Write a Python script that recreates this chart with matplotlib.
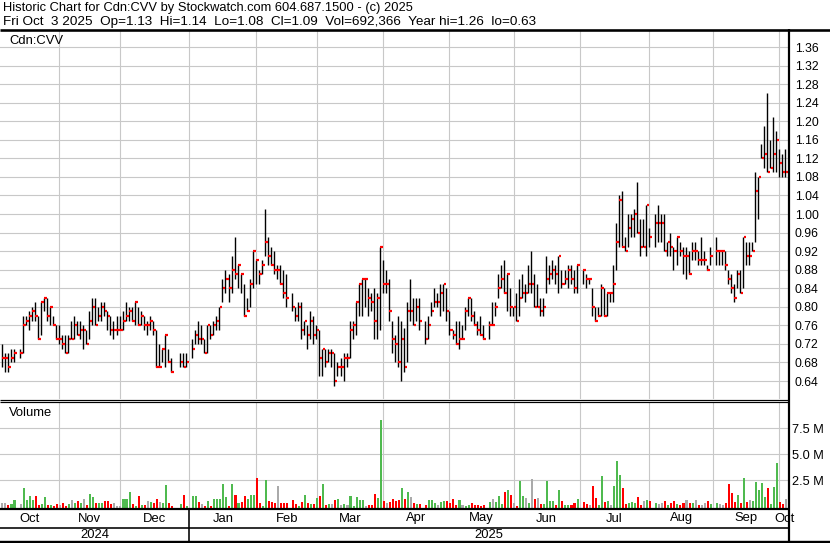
import numpy as np
import pandas as pd
import matplotlib
matplotlib.use("Agg")
import matplotlib.pyplot as plt
from matplotlib.lines import Line2D

plt.rcParams['font.family'] = ['Liberation Sans', 'DejaVu Sans']

# ---------------- data (one slot per weekday, None = market holiday) ----------------
first_day = '2024-10-07'
last_day = '2025-10-03'

high = [
    0.72, 0.70, 0.70, 0.71, 0.71, None, 0.71, 0.78, 0.78, 0.79,
    0.80, 0.81, 0.78, 0.81, 0.82, 0.82, 0.80, 0.78, 0.76, 0.76,
    0.74, 0.74, 0.74, 0.77, 0.78, 0.77, 0.77, 0.76, 0.75, 0.79,
    0.82, 0.82, 0.80, 0.81, 0.81, 0.79, 0.78, 0.77, 0.78, 0.78,
    0.79, 0.81, 0.80, 0.80, 0.81, 0.80, 0.79, 0.78, 0.77, 0.78,
    0.77, 0.75, 0.72, 0.71, 0.74, 0.71, 0.69, None, None, 0.70,
    0.70, 0.70, None, 0.73, 0.75, 0.77, 0.76, 0.73, 0.76, 0.76,
    0.77, 0.78, 0.80, 0.86, 0.88, 0.87, 0.91, 0.95, 0.89, 0.87,
    0.85, 0.82, 0.86, 0.92, 0.90, 0.88, 0.90, 1.01, 0.95, 0.93,
    0.92, 0.89, 0.89, 0.88, 0.87, None, 0.83, 0.80, 0.81, 0.81,
    0.77, 0.76, 0.79, 0.78, 0.76, 0.75, 0.71, 0.71, 0.71, 0.71,
    0.70, 0.68, 0.69, 0.70, 0.70, 0.77, 0.77, 0.81, 0.85, 0.86,
    0.86, 0.84, 0.83, 0.84, 0.83, 0.93, 0.90, 0.88, 0.86, 0.77,
    0.74, 0.78, 0.77, 0.755, 0.81, 0.86, 0.82, 0.82, 0.82, None,
    0.77, 0.78, 0.81, 0.84, 0.83, 0.85, 0.85, 0.84, 0.79, 0.75,
    0.77, 0.77, 0.76, 0.80, 0.82, 0.82, 0.79, 0.77, 0.78, 0.76,
    None, 0.77, 0.81, 0.81, 0.87, 0.89, 0.90, 0.87, 0.84, 0.80,
    0.83, 0.86, 0.87, 0.85, 0.89, 0.92, 0.87, 0.85, 0.82, 0.82,
    0.91, 0.89, 0.90, 0.89, 0.91, 0.88, 0.88, 0.89, 0.89, 0.88,
    0.89, None, 0.88, 0.87, 0.86, 0.84, 0.80, 0.80, 0.85, 0.84,
    0.83, 0.83, 0.89, 0.98, 1.04, 1.05, 0.95, 1.00, 1.00, 1.01,
    1.07, 0.99, 0.99, 1.02, 0.97, None, 1.00, 1.02, 1.00, 1.00,
    0.94, 0.96, 0.93, 0.95, 0.94, 0.93, 0.93, 0.92, 0.94, 0.94,
    0.92, 0.95, 0.92, 0.89, 0.93, None, 0.95, 0.92, 0.92, 0.92,
    0.88, 0.87, 0.85, 0.88, 0.88, 0.95, 0.94, 0.94, 0.94, 1.09,
    1.08, 1.15, 1.19, 1.26, 1.16, 1.21, 1.18, 1.14, 1.13, 1.14,
]

low = [
    0.67, 0.66, 0.66, 0.68, 0.68, None, 0.69, 0.70, 0.76, 0.75,
    0.77, 0.77, 0.73, 0.74, 0.79, 0.77, 0.76, 0.76, 0.73, 0.72,
    0.71, 0.70, 0.70, 0.73, 0.73, 0.74, 0.73, 0.71, 0.72, 0.73,
    0.76, 0.76, 0.77, 0.77, 0.78, 0.75, 0.74, 0.73, 0.74, 0.75,
    0.75, 0.77, 0.77, 0.77, 0.76, 0.76, 0.76, 0.75, 0.74, 0.75,
    0.74, 0.67, 0.67, 0.68, 0.67, 0.68, 0.66, None, None, 0.67,
    0.67, 0.67, None, 0.69, 0.72, 0.72, 0.72, 0.70, 0.70, 0.73,
    0.74, 0.75, 0.75, 0.81, 0.83, 0.81, 0.83, 0.86, 0.84, 0.83,
    0.78, 0.79, 0.80, 0.84, 0.85, 0.85, 0.87, 0.91, 0.89, 0.89,
    0.87, 0.86, 0.85, 0.82, 0.80, None, 0.79, 0.77, 0.77, 0.73,
    0.74, 0.71, 0.73, 0.72, 0.73, 0.65, 0.65, 0.67, 0.68, 0.67,
    0.63, 0.65, 0.65, 0.64, 0.67, 0.69, 0.73, 0.74, 0.78, 0.78,
    0.80, 0.78, 0.79, 0.73, 0.73, 0.75, 0.83, 0.83, 0.77, 0.70,
    0.68, 0.67, 0.64, 0.66, 0.68, 0.77, 0.76, 0.77, 0.75, None,
    0.72, 0.73, 0.78, 0.80, 0.80, 0.78, 0.79, 0.77, 0.74, 0.73,
    0.72, 0.71, 0.73, 0.75, 0.78, 0.77, 0.76, 0.74, 0.74, 0.73,
    None, 0.73, 0.76, 0.78, 0.82, 0.84, 0.83, 0.79, 0.78, 0.78,
    0.77, 0.78, 0.82, 0.81, 0.83, 0.83, 0.80, 0.80, 0.78, 0.78,
    0.83, 0.85, 0.86, 0.85, 0.83, 0.84, 0.85, 0.84, 0.85, 0.83,
    0.83, None, 0.85, 0.84, 0.85, 0.78, 0.77, 0.78, 0.78, 0.78,
    0.78, 0.81, 0.81, 0.88, 0.93, 0.93, 0.92, 0.93, 0.95, 0.95,
    0.96, 0.91, 0.93, 0.91, 0.93, None, 0.93, 0.94, 0.94, 0.92,
    0.91, 0.91, 0.88, 0.89, 0.91, 0.87, 0.86, 0.87, 0.90, 0.90,
    0.89, 0.89, 0.89, 0.88, 0.89, None, 0.89, 0.89, 0.89, 0.88,
    0.85, 0.83, 0.81, 0.84, 0.83, 0.84, 0.89, 0.89, 0.92, 0.94,
    0.99, 1.12, 1.10, 1.09, 1.10, 1.09, 1.09, 1.08, 1.08, 1.08,
]

close = [
    0.69, 0.69, 0.67, 0.69, 0.70, None, 0.70, 0.76, 0.77, 0.78,
    0.79, 0.78, 0.73, 0.81, 0.82, 0.78, 0.80, 0.76, 0.73, 0.73,
    0.72, 0.70, 0.73, 0.73, 0.76, 0.74, 0.75, 0.75, 0.72, 0.77,
    0.80, 0.76, 0.78, 0.80, 0.79, 0.78, 0.75, 0.75, 0.75, 0.75,
    0.77, 0.78, 0.79, 0.77, 0.81, 0.76, 0.78, 0.76, 0.76, 0.77,
    0.75, 0.67, 0.67, 0.71, 0.74, 0.68, 0.66, None, None, 0.68,
    0.67, 0.68, None, 0.71, 0.74, 0.73, 0.73, 0.70, 0.76, 0.74,
    0.76, 0.77, 0.80, 0.84, 0.86, 0.84, 0.88, 0.87, 0.89, 0.87,
    0.78, 0.79, 0.85, 0.92, 0.90, 0.87, 0.89, 0.94, 0.91, 0.89,
    0.88, 0.88, 0.85, 0.83, 0.82, None, 0.80, 0.78, 0.80, 0.75,
    0.77, 0.74, 0.77, 0.74, 0.75, 0.69, 0.71, 0.68, 0.70, 0.70,
    0.64, 0.67, 0.67, 0.69, 0.69, 0.75, 0.76, 0.81, 0.85, 0.86,
    0.86, 0.82, 0.81, 0.77, 0.82, 0.93, 0.85, 0.85, 0.79, 0.73,
    0.72, 0.68, 0.73, 0.67, 0.79, 0.79, 0.76, 0.80, 0.77, None,
    0.73, 0.76, 0.79, 0.81, 0.81, 0.83, 0.85, 0.79, 0.75, 0.74,
    0.72, 0.73, 0.73, 0.79, 0.82, 0.78, 0.76, 0.75, 0.74, 0.73,
    None, 0.76, 0.76, 0.80, 0.84, 0.86, 0.83, 0.87, 0.80, 0.80,
    0.77, 0.82, 0.83, 0.83, 0.85, 0.85, 0.80, 0.80, 0.79, 0.80,
    0.86, 0.87, 0.88, 0.87, 0.91, 0.85, 0.86, 0.88, 0.86, 0.84,
    0.89, None, 0.88, 0.86, 0.86, 0.80, 0.77, 0.78, 0.84, 0.78,
    0.83, 0.83, 0.85, 0.94, 1.03, 0.93, 0.92, 0.97, 0.99, 1.00,
    0.96, 0.93, 0.93, 1.02, 0.95, None, 0.98, 0.98, 0.98, 0.92,
    0.94, 0.93, 0.92, 0.95, 0.92, 0.91, 0.91, 0.87, 0.92, 0.92,
    0.90, 0.90, 0.90, 0.88, 0.91, None, 0.92, 0.92, 0.92, 0.89,
    0.86, 0.84, 0.82, 0.87, 0.83, 0.95, 0.91, 0.91, 0.92, 1.05,
    1.08, 1.12, 1.13, 1.09, 1.10, 1.13, 1.16, 1.11, 1.09, 1.09,
]

volume_m = [
    0.29, 0.35, 0.10, 0.22, 0.61, None, 0.26, 1.80, 0.61, 1.00,
    0.61, 1.00, 0.13, 0.19, 0.90, 0.13, 0.13, 0.05, 0.26, 0.13,
    0.35, 0.05, 0.22, 0.61, 0.35, 0.51, 0.29, 0.70, 0.13, 1.19,
    0.90, 0.35, 0.29, 0.29, 0.51, 0.51, 0.22, 0.35, 0.03, 0.05,
    0.70, 0.70, 1.38, 0.22, 0.05, 1.00, 0.13, 0.13, 0.51, 0.45,
    0.35, 0.70, 0.45, 0.35, 2.05, 0.35, 0.05, None, None, 0.22,
    1.06, 0.03, None, 1.00, 1.00, 0.42, 0.22, 0.03, 0.51, 0.03,
    0.67, 0.67, 0.67, 2.15, 0.93, 0.03, 2.15, 1.09, 0.35, 0.45,
    1.00, 0.67, 1.09, 1.09, 2.72, 0.35, 0.03, 2.53, 0.51, 0.45,
    0.29, 1.99, 0.35, 0.29, 0.29, None, 0.61, 0.22, 0.03, 0.38,
    1.09, 0.35, 0.26, 0.20, 0.77, 0.96, 2.15, 0.13, 0.22, 0.22,
    0.58, 0.70, 0.13, 0.22, 0.10, 0.96, 0.05, 0.90, 0.58, 0.58,
    0.05, 0.13, 0.13, 1.19, 0.77, 8.30, 0.51, 0.35, 0.45, 0.70,
    0.51, 0.58, 1.76, 0.70, 1.38, 0.90, 0.29, 0.22, 0.22, None,
    0.13, 0.58, 0.58, 0.35, 0.13, 0.38, 0.51, 0.51, 0.35, 0.70,
    0.13, 0.58, 0.13, 0.05, 0.13, 0.29, 0.13, 0.13, 0.03, 0.13,
    None, 0.45, 0.70, 0.45, 1.00, 0.22, 1.38, 1.54, 1.06, 0.29,
    0.05, 2.44, 1.00, 0.80, 0.29, 2.63, 0.70, 0.77, 0.22, 0.22,
    2.44, 0.51, 0.51, 0.10, 1.57, 0.51, 0.13, 0.13, 0.13, 0.35,
    0.70, None, 0.45, 0.22, 0.10, 2.00, 0.77, 0.13, 2.95, 0.45,
    0.51, 0.13, 2.00, 4.36, 3.00, 1.80, 0.22, 0.35, 0.45, 0.35,
    0.90, 0.13, 0.51, 0.58, 0.51, None, 0.35, 0.22, 0.29, 0.51,
    0.13, 0.29, 0.51, 0.22, 0.13, 0.29, 0.58, 0.35, 0.35, 0.58,
    0.13, 0.13, 0.35, 0.51, 0.20, None, 0.29, 0.22, 0.13, 0.29,
    2.15, 1.31, 0.38, 1.09, 0.29, 2.72, 0.38, 0.58, 0.51, 2.37,
    1.57, 2.24, 0.90, 1.80, 0.22, 1.86, 4.17, 0.38, 0.22, 0.69,
]

price_ticks = [0.64, 0.68, 0.72, 0.76, 0.80, 0.84, 0.88, 0.92, 0.96, 1.00,
               1.04, 1.08, 1.12, 1.16, 1.20, 1.24, 1.28, 1.32, 1.36]
volume_ticks_m = [2.5, 5.0, 7.5]
volume_tick_labels = ['2.5 M', '5.0 M', '7.5 M']

header_1 = "Historic Chart for Cdn:CVV by Stockwatch.com 604.687.1500 - (c) 2025"
header_2 = ("Fri Oct  3 2025  Op=1.13  Hi=1.14  Lo=1.08  Cl=1.09  "
            "Vol=692,366  Year hi=1.26  lo=0.63")
symbol = "Cdn:CVV"

# ---------------- preparation ----------------
days = pd.bdate_range(first_day, last_day)
x = np.arange(len(days), dtype=float)
high = np.array(high, dtype=float)
low = np.array(low, dtype=float)
close = np.array(close, dtype=float)
vol = np.array(volume_m, dtype=float) * 1e6

# colour of each volume bar from the close-to-close change
GREEN, RED, GREY = '#4fba4f', '#ff0000', '#aaaaaa'
vcolors = []
prev = np.nan
for c in close:
    if np.isnan(c):
        vcolors.append(GREY)
        continue
    if np.isnan(prev) or c == prev:
        vcolors.append(GREY)
    elif c > prev:
        vcolors.append(GREEN)
    else:
        vcolors.append(RED)
    prev = c

# month boundaries on the weekday axis
month_starts = pd.date_range('2024-11-01', '2025-10-01', freq='MS')
bounds = []
for d in month_starts:
    p = np.busday_count(np.datetime64(first_day),
                        np.datetime64((d + pd.Timedelta(days=1)).date())) - 1
    if d.weekday() >= 5:
        p += 0.2
    bounds.append(float(p))

# ---------------- figure layout (pixel based) ----------------
W, H = 830, 543
fig = plt.figure(figsize=(W / 100, H / 100), dpi=100)
fig.patch.set_facecolor('white')


def fx(px):
    return px / W


def fy(py):
    return 1 - py / H


PR = 789          # right edge of plotting area
PX_PER = 3.027    # pixels per weekday
X0 = 1.5          # pixel of first bar
xlim = (-X0 / PX_PER, (PR - X0) / PX_PER)

GRID = '#c8c8c8'
FS = 9.4

ax_p = fig.add_axes([0, fy(399), fx(PR), (399 - 31) / H])
ax_v = fig.add_axes([0, fy(508), fx(PR), (508 - 402) / H])
ax_d = fig.add_axes([0, 0, fx(PR), (543 - 508) / H])

for ax in (ax_p, ax_v, ax_d):
    ax.set_xlim(*xlim)
    for s in ax.spines.values():
        s.set_visible(False)
    ax.set_facecolor('white')

# price panel
ax_p.set_ylim(0.6012, 1.3947)
ax_p.set_yticks(price_ticks)
ax_p.set_yticklabels([f"{t:.2f}" for t in price_ticks])
ax_p.set_xticks(bounds)
ax_p.tick_params(axis='x', length=0, labelbottom=False)
ax_p.tick_params(axis='y', length=0, pad=4.3, labelright=True, labelleft=False,
                 labelsize=8.8)
ax_p.grid(True, color=GRID, lw=0.8)
ax_p.set_axisbelow(True)
ax_p.vlines(x, low, high, colors='black', lw=1.0, zorder=3)
ax_p.hlines(close, x + 0.15, x + 1.0, colors='red', lw=1.6, zorder=4)
ax_p.text(fx(9) / fx(PR), 1 - (41 - 31) / (399 - 31), symbol, transform=ax_p.transAxes,
          ha='left', va='center', fontsize=FS)

# volume panel
vmin = -0.16e6
ax_v.set_ylim(vmin, 10.03e6)
ax_v.set_yticks([v * 1e6 for v in volume_ticks_m])
ax_v.set_yticklabels(volume_tick_labels)
ax_v.set_xticks(bounds)
ax_v.tick_params(axis='x', length=0, labelbottom=False)
ax_v.tick_params(axis='y', length=0, pad=2.0, labelright=True, labelleft=False,
                 labelsize=9.2)
ax_v.grid(True, color=GRID, lw=0.8)
ax_v.set_axisbelow(True)
ok = ~np.isnan(vol)
ax_v.bar(x[ok] + 0.3, vol[ok] - vmin, bottom=vmin, width=0.68,
         color=[vcolors[i] for i in np.where(ok)[0]], zorder=3)
ax_v.text(fx(9) / fx(PR), 1 - (413 - 402) / (508 - 402), "Volume",
          transform=ax_v.transAxes, ha='left', va='center', fontsize=FS)

# date band
ax_d.set_ylim(0, 1)
ax_d.set_xticks([])
ax_d.set_yticks([])
edges = [xlim[0]] + bounds + [xlim[1]]
names = ['Oct'] + [d.strftime('%b') for d in month_starts]
for k, name in enumerate(names):
    cx = 0.5 * (edges[k] + edges[k + 1])
    ax_d.text(cx, (543 - 518.5) / 35, name, ha='center', va='center',
              fontsize=FS, zorder=5, clip_on=False)
jan = bounds[2]
ax_d.text(0.5 * (xlim[0] + jan), (543 - 535) / 35, '2024', ha='center',
          va='center', fontsize=FS)
ax_d.text(0.5 * (jan + xlim[1]), (543 - 535) / 35, '2025', ha='center',
          va='center', fontsize=FS)

# header
fig.text(fx(3), fy(8.5), header_1, ha='left', va='center', fontsize=9.3)
fig.text(fx(3), fy(21.5), header_2, ha='left', va='center', fontsize=9.7)


def hline(y, x0, x1, w):
    fig.add_artist(Line2D([fx(x0), fx(x1)], [fy(y), fy(y)], color='black',
                          lw=w * 0.72, transform=fig.transFigure,
                          solid_capstyle='butt'))


def vline(xp, y0, y1, w):
    fig.add_artist(Line2D([fx(xp), fx(xp)], [fy(y0), fy(y1)], color='black',
                          lw=w * 0.72, transform=fig.transFigure,
                          solid_capstyle='butt'))


hline(29.5, 0, W, 2.6)
hline(399.8, 0, PR, 1.2)
hline(402.2, 0, PR, 1.2)
hline(509.3, 0, PR, 2.2)
hline(527.5, 0, PR, 1.6)
hline(541.8, 0, W, 2.4)
vline(789, 28.5, 543, 2.2)
jan_px = X0 + PX_PER * jan
vline(jan_px, 509, 542, 1.6)

fig.savefig('out.png', dpi=100)
